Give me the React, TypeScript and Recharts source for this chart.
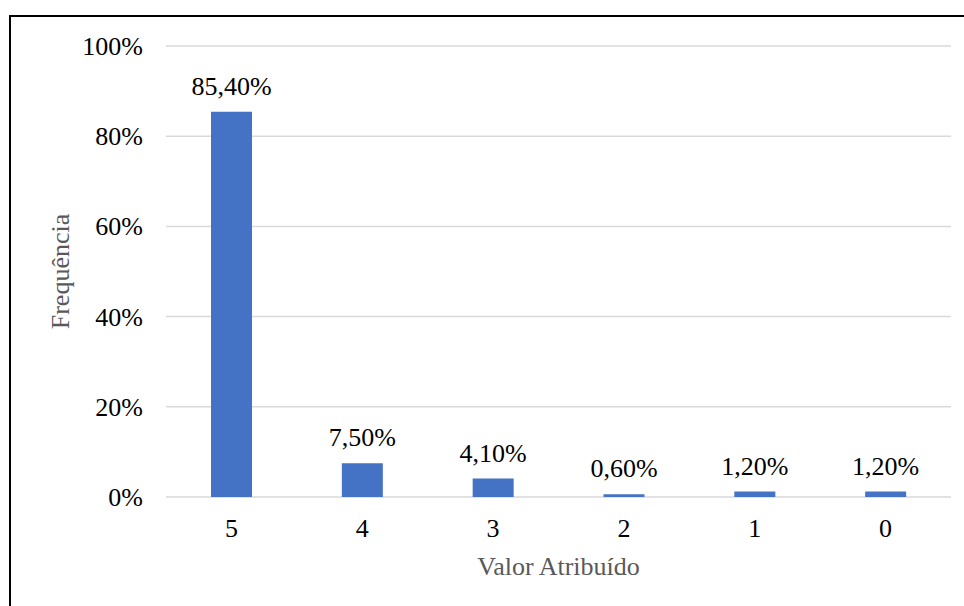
import React from 'react';
import { BarChart, Bar, XAxis, YAxis, CartesianGrid, LabelList } from 'recharts';

// Valor atribuído (categorias) e frequência em %
const categories = ['5', '4', '3', '2', '1', '0'];
const frequency = [85.4, 7.5, 4.1, 0.6, 1.2, 1.2];
const yTicks = [0, 20, 40, 60, 80, 100];

const data = categories.map((c, i) => ({ valor: c, freq: frequency[i] }));

const font = "'Liberation Serif', 'Times New Roman', serif";
const barColor = '#4472C4';
const gridColor = '#d9d9d9';
const titleColor = '#595959';

const fmtPct = (v: number) => `${v.toFixed(2).replace('.', ',')}%`;

const XTick = (props: any) => {
  const { x, y, payload } = props;
  return (
    <text x={x} y={y + 21} dy={18.5} textAnchor="middle" fill="#000" style={{ fontFamily: font, fontSize: 26 }}>
      {payload.value}
    </text>
  );
};

const YTick = (props: any) => {
  const { x, y, payload } = props;
  return (
    <text x={x - 23} y={y} dy={9} textAnchor="end" fill="#000" style={{ fontFamily: font, fontSize: 26 }}>
      {`${payload.value}%`}
    </text>
  );
};

const BarLabel = (props: any) => {
  const { x, y, width, value } = props;
  return (
    <text x={x + width / 2} y={y - 17} textAnchor="middle" fill="#000" style={{ fontFamily: font, fontSize: 26 }}>
      {fmtPct(value)}
    </text>
  );
};

export default function App() {
  return (
    <div style={{ position: 'fixed', left: 0, top: 0, width: 964, height: 606, background: '#fff', fontFamily: font }}>
      {/* moldura do gráfico (só topo e esquerda visíveis) */}
      <div
        style={{
          position: 'absolute',
          left: 9,
          top: 15,
          width: 1000,
          height: 700,
          borderTop: '2px solid #000',
          borderLeft: '2px solid #000',
          boxSizing: 'border-box',
        }}
      />
      <BarChart
        width={964}
        height={606}
        data={data}
        margin={{ top: 46, right: 13, left: 0, bottom: 0 }}
        barCategoryGap={0}
        style={{ position: 'absolute', left: 0, top: 0, fontFamily: font }}
      >
        <CartesianGrid horizontal vertical={false} stroke={gridColor} strokeWidth={1.5} />
        <XAxis
          dataKey="valor"
          height={109}
          axisLine={false}
          tickLine={false}
          tickSize={0}
          tickMargin={0}
          tick={<XTick />}
          label={{
            value: 'Valor Atribuído',
            position: 'insideBottom',
            offset: 31,
            fill: titleColor,
            fontSize: 26,
            fontFamily: font,
          }}
        />
        <YAxis
          width={166}
          domain={[0, 100]}
          ticks={yTicks}
          axisLine={false}
          tickLine={false}
          tickSize={0}
          tickMargin={0}
          tick={<YTick />}
          label={{
            value: 'Frequência',
            angle: -90,
            position: 'center',
            dx: -23,
            fill: titleColor,
            fontSize: 26,
            fontFamily: font,
          }}
        />
        <Bar dataKey="freq" fill={barColor} barSize={41} isAnimationActive={false}>
          <LabelList dataKey="freq" content={<BarLabel />} />
        </Bar>
      </BarChart>
    </div>
  );
}
